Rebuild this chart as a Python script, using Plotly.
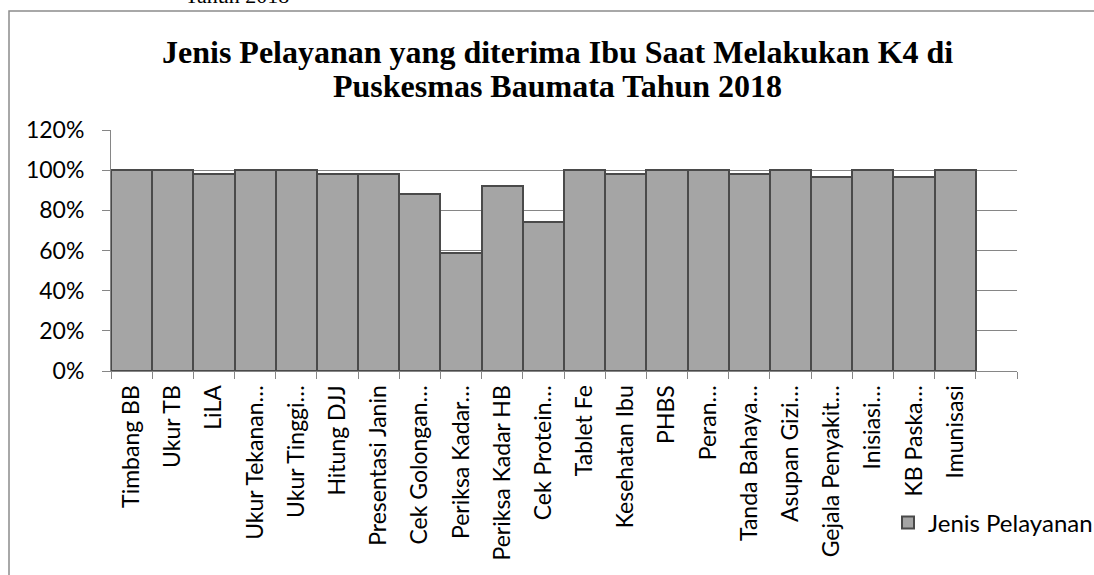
import plotly.graph_objects as go

categories = ["Timbang BB", "Ukur TB", "LiLA", "Ukur Tekanan…", "Ukur Tinggi…", "Hitung DJJ",
              "Presentasi Janin", "Cek Golongan…", "Periksa Kadar…", "Periksa Kadar HB",
              "Cek Protein…", "Tablet Fe", "Kesehatan Ibu", "PHBS", "Peran…", "Tanda Bahaya…",
              "Asupan Gizi…", "Gejala Penyakit…", "Inisiasi…", "KB Paska…", "Imunisasi", " "]
values = [1.00, 1.00, 0.98, 1.00, 1.00, 0.98, 0.98, 0.88, 0.59, 0.92, 0.74, 1.00, 0.98,
          1.00, 1.00, 0.98, 1.00, 0.965, 1.00, 0.965, 1.00, None]
y_ticks = [0, 0.2, 0.4, 0.6, 0.8, 1.0, 1.2]
y_labels = ["0%", "20%", "40%", "60%", "80%", "100%", "120%"]
title_lines = ["Jenis Pelayanan yang diterima Ibu Saat Melakukan K4 di",
               "Puskesmas Baumata Tahun 2018"]

W, H = 1094, 575
L, R, T, B = 111, 1017, 130, 371
pw, ph = R - L, B - T

def px(x):
    return (x - L) / pw

def py(y):
    return (B - y) / ph

SANS = "Lato, Open Sans, sans-serif"
SERIF = "Liberation Serif, Times New Roman, serif"

fig = go.Figure()
fig.add_trace(go.Bar(
    x=categories, y=values, name="Jenis Pelayanan",
    marker=dict(color="#A5A5A5", line=dict(color="#4a4a4a", width=2)),
    showlegend=True,
))

fig.update_layout(
    width=W, height=H,
    margin=dict(l=L, r=W - R, t=T, b=H - B, autoexpand=False),
    paper_bgcolor="white", plot_bgcolor="white",
    bargap=0,
    font=dict(family=SANS, size=23, color="black"),
    xaxis=dict(
        type="category", tickangle=-90, tickson="boundaries",
        ticks="outside", ticklen=7, tickcolor="#868686",
        ticklabelstandoff=4,
        showline=True, linecolor="#868686", linewidth=1, showgrid=False,
        tickfont=dict(size=23), automargin=False,
    ),
    yaxis=dict(
        range=[0, 1.2], tickvals=y_ticks, ticktext=y_labels,
        ticks="outside", ticklen=8, tickcolor="#868686",
        ticklabelstandoff=13,
        showline=True, linecolor="#868686", linewidth=1,
        showgrid=True, gridcolor="#868686", gridwidth=1,
        tickfont=dict(size=23), automargin=False, zeroline=False,
    ),
    legend=dict(
        x=px(888), y=py(523), xanchor="left", yanchor="middle",
        font=dict(size=24), bgcolor="rgba(0,0,0,0)", itemsizing="constant",
        itemwidth=30,
    ),
    shapes=[dict(type="rect", xref="paper", yref="paper",
                 x0=px(9), x1=px(1200), y0=py(11), y1=py(700),
                 line=dict(color="#8c8c8c", width=1.5), fillcolor="rgba(0,0,0,0)", layer="below")],
    annotations=[
        dict(text="Tahun 2018", xref="paper", yref="paper", x=px(237), y=py(10),
             xanchor="center", yanchor="bottom", showarrow=False,
             font=dict(family=SERIF, size=22, color="black")),
        dict(text="<b>" + title_lines[0] + "</b>", xref="paper", yref="paper", x=px(557), y=py(52),
             xanchor="center", yanchor="middle", showarrow=False,
             font=dict(family=SERIF, size=32, color="black")),
        dict(text="<b>" + title_lines[1] + "</b>", xref="paper", yref="paper", x=px(557), y=py(86),
             xanchor="center", yanchor="middle", showarrow=False,
             font=dict(family=SERIF, size=32, color="black")),
    ],
)

fig.write_html("out.html", config={"displayModeBar": False},
               post_script="document.body.style.margin='0';")
